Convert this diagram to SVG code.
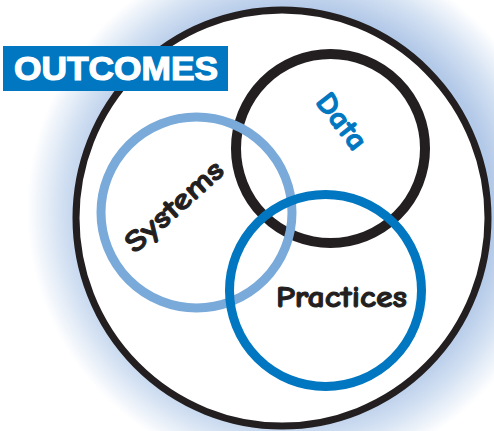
<svg xmlns="http://www.w3.org/2000/svg" width="494" height="431" viewBox="0 0 494 431">
<defs>
<radialGradient id="glow" cx="292" cy="210" r="265" gradientUnits="userSpaceOnUse">
<stop offset="0.76" stop-color="#b3c9e8"/>
<stop offset="0.87" stop-color="#d2e0f2"/>
<stop offset="1" stop-color="#ffffff"/>
</radialGradient>
</defs>
<style>
.ring{fill:none}
.lbl{font-family:"Comic Neue","DejaVu Sans",sans-serif;font-weight:bold;stroke-width:1;paint-order:stroke}
</style>
<rect width="494" height="431" fill="#ffffff"/>
<circle cx="292" cy="210" r="265" fill="url(#glow)"/>
<g id="outcomes">
<ellipse cx="282" cy="218" rx="206" ry="208" fill="#ffffff" stroke="#231f20" stroke-width="7"/>
<rect x="3" y="46" width="225" height="45" fill="#0077c0"/>
<text x="116" y="80" text-anchor="middle" font-family="Liberation Sans, Arial, sans-serif" font-weight="bold" font-size="33" fill="#ffffff" stroke="#ffffff" stroke-width="1.2" textLength="204" lengthAdjust="spacingAndGlyphs">OUTCOMES</text>
</g>
<g id="data">
<circle class="ring" cx="330.5" cy="148.5" r="94.5" stroke="#231f20" stroke-width="10"/>
<text class="lbl" transform="translate(342,121) rotate(52)" x="0" y="10" text-anchor="middle" font-size="30" fill="#0077c0" stroke="#0077c0" textLength="64" lengthAdjust="spacingAndGlyphs">Data</text>
</g>
<g id="systems">
<circle class="ring" cx="196.5" cy="212.5" r="95.5" stroke="#7aaad9" stroke-width="9"/>
<text class="lbl" transform="translate(174,206) rotate(-42)" x="0" y="10" text-anchor="middle" font-size="30" fill="#231f20" stroke="#231f20" textLength="122" lengthAdjust="spacingAndGlyphs">Systems</text>
</g>
<g id="practices">
<circle class="ring" cx="325.5" cy="290.5" r="96" stroke="#0077c0" stroke-width="9"/>
<text class="lbl" x="341.5" y="307" text-anchor="middle" font-size="30" fill="#231f20" stroke="#231f20" textLength="131" lengthAdjust="spacingAndGlyphs">Practices</text>
</g>
<g id="connectors"></g>
</svg>
